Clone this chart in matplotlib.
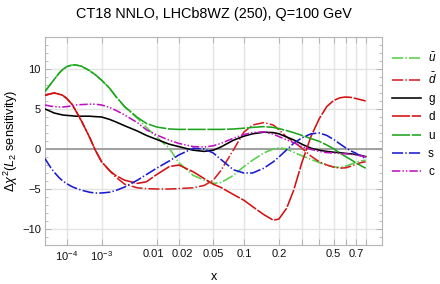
import numpy as np
import matplotlib
matplotlib.use('Agg')
import matplotlib.pyplot as plt
from matplotlib.transforms import ScaledTranslation

# ---------------- data ----------------
x = [1e-5, 2e-5, 3e-5, 5e-5, 7e-5, 1e-4, 1.5e-4, 2e-4, 3e-4, 5e-4, 7e-4,
     1e-3, 1.5e-3, 2e-3, 3e-3, 5e-3, 7e-3, 0.01, 0.015, 0.02, 0.03, 0.04,
     0.05, 0.06, 0.08, 0.1, 0.12, 0.15, 0.18, 0.2, 0.23, 0.26, 0.3, 0.35,
     0.4, 0.45, 0.5, 0.55, 0.6, 0.65, 0.7, 0.75, 0.8]

ubar = [7.2, 8.1, 8.7, 9.5, 9.95, 10.3, 10.5, 10.5, 10.35, 9.8, 9.3,
        8.6, 7.6, 6.6, 5.25, 3.85, 2.7, 1.5, 0.1, -1.7, -3.3, -3.9,
        -4.3, -4.2, -3.3, -2.2, -1.4, -0.5, 0.0, 0.15, 0.0, -0.4, -0.85, -1.3,
        -1.7, -2.0, -2.25, -2.3, -2.15, -1.9, -1.65, -1.5, -1.4]
dbar = [6.7, 6.9, 7.0, 6.85, 6.7, 6.3, 5.6, 4.8, 3.5, 1.5, -0.1,
        -1.6, -2.7, -3.5, -4.4, -4.85, -4.95, -5.0, -5.0, -4.95, -4.85, -4.55,
        -3.9, -2.7, -0.1, 2.1, 3.0, 3.3, 3.0, 2.4, 1.5, 0.9, 0.1, -0.9,
        -1.6, -2.0, -2.25, -2.4, -2.35, -2.15, -1.9, -1.7, -1.6]
g = [5.0, 4.7, 4.5, 4.35, 4.25, 4.2, 4.15, 4.1, 4.1, 4.1, 4.05,
     4.0, 3.7, 3.4, 2.9, 2.25, 1.7, 1.2, 0.6, 0.3, -0.15, -0.3,
     -0.15, 0.25, 1.1, 1.6, 1.9, 2.1, 2.05, 1.9, 1.5, 1.15, 0.6, 0.1,
     -0.15, -0.3, -0.4, -0.45, -0.55, -0.6, -0.7, -0.8, -0.95]
d = [6.7, 6.9, 7.0, 6.85, 6.7, 6.3, 5.6, 4.8, 3.5, 1.5, -0.1,
     -1.6, -2.7, -3.3, -3.9, -4.3, -4.1, -3.2, -2.2, -2.0, -2.85, -3.7,
     -4.4, -4.8, -5.7, -6.4, -7.2, -8.2, -8.9, -8.75, -7.4, -5.2, -1.7, 1.6,
     3.8, 5.3, 6.05, 6.4, 6.5, 6.45, 6.3, 6.15, 6.0]
u = [7.2, 8.1, 8.7, 9.5, 9.95, 10.3, 10.5, 10.5, 10.35, 9.8, 9.3,
     8.6, 7.6, 6.6, 5.3, 3.95, 3.2, 2.75, 2.5, 2.45, 2.45, 2.45,
     2.45, 2.45, 2.5, 2.6, 2.7, 2.8, 2.7, 2.55, 2.3, 2.05, 1.7, 1.3,
     0.95, 0.5, 0.05, -0.5, -0.95, -1.35, -1.75, -2.1, -2.4]
s = [-1.2, -2.3, -2.9, -3.6, -4.0, -4.35, -4.7, -4.9, -5.15, -5.4, -5.5,
     -5.5, -5.4, -5.2, -4.75, -3.9, -3.2, -2.4, -1.5, -0.75, 0.1, 0.0,
     -0.5, -1.3, -2.6, -3.0, -3.0, -2.4, -1.6, -1.0, -0.1, 0.7, 1.4, 1.9,
     2.0, 1.7, 1.2, 0.65, 0.15, -0.25, -0.55, -0.9, -1.2]
c = [5.5, 5.35, 5.3, 5.25, 5.25, 5.3, 5.4, 5.5, 5.55, 5.6, 5.6,
     5.5, 5.2, 4.85, 4.25, 3.3, 2.4, 1.75, 1.1, 0.7, 0.3, 0.25,
     0.4, 0.7, 1.35, 1.8, 2.05, 2.15, 1.85, 1.55, 1.15, 0.8, 0.3, -0.05,
     -0.3, -0.45, -0.5, -0.55, -0.6, -0.65, -0.75, -0.85, -1.0]

labels = [r'$\bar{u}$', r'$\bar{d}$', 'g', 'd', 'u', 's', 'c']
series = [ubar, dbar, g, d, u, s, c]
colors = ['#55d04a', '#d42020', '#000000', '#d41010', '#1ea51e', '#1a1ad0', '#c010c0']
styles = [(0, (8, 1.6, 1, 1.6)), (0, (8, 1.6, 1, 1.6)), '-', (0, (13, 1.2)),
          (0, (13, 1.2)), (0, (8, 1.6, 1, 1.6)), (0, (6, 1.5, 1, 1.5, 1, 1.5))]

xgrid = [1e-4, 1e-3, 0.01, 0.02, 0.05, 0.1, 0.2, 0.3, 0.4, 0.5, 0.6, 0.7, 0.8]
xticklabels = [r'$10^{-4}$', r'$10^{-3}$', '0.01', '0.02', '0.05', '0.1', '0.2',
               '', '', '0.5', '', '0.7', '']
yticks = [-10, -5, 0, 5, 10]

# ---------------- style ----------------
plt.rcParams['font.family'] = ['Liberation Sans', 'DejaVu Sans']
plt.rcParams['mathtext.fontset'] = 'custom'
plt.rcParams['mathtext.rm'] = 'Liberation Sans'
plt.rcParams['mathtext.it'] = 'Liberation Sans:italic'
plt.rcParams['mathtext.sf'] = 'Liberation Sans'
plt.rcParams['lines.scale_dashes'] = False

fig = plt.figure(figsize=(4.4, 2.84), dpi=100)
ax = fig.add_axes([45 / 440, 39 / 284, 337 / 440, 208 / 284])


def fwd(v):
    return np.power(np.clip(v, 1e-12, None), 0.2)


def inv(v):
    return np.power(np.clip(v, 0, None), 5.0)


ax.set_xscale('function', functions=(fwd, inv))
ax.set_xlim(1e-5, 1)
ax.set_ylim(-12, 14)

ax.set_xticks(xgrid)
ax.set_xticklabels(xticklabels)
ax.set_xticks([], minor=True)
ax.set_yticks(yticks)
ax.set_yticklabels([str(v).replace('-', '\u2212') for v in yticks])
ax.set_yticks(np.arange(-12, 15, 1), minor=True)

ax.grid(True, which='major', color='#e4e4e4', lw=1.0)
ax.set_axisbelow(True)
ax.axhline(0, color='#a0a0a0', lw=1.4, zorder=1)

for sp in ax.spines.values():
    sp.set_color('#b4b4b4')
    sp.set_linewidth(0.8)
ax.tick_params(which='both', direction='in', top=True, right=True,
               color='#b4b4b4', labelsize=8, labelcolor='#111111')
ax.tick_params(which='major', length=4, width=0.7, pad=3)
ax.tick_params(which='minor', length=2, width=0.6)

# small separation of the two crowded labels, as in the reference
for lab in ax.get_xticklabels():
    if lab.get_text() == '0.01':
        lab.set_transform(lab.get_transform() + ScaledTranslation(-0.035, 0, fig.dpi_scale_trans))
    elif lab.get_text() == '0.02':
        lab.set_transform(lab.get_transform() + ScaledTranslation(0.035, 0, fig.dpi_scale_trans))

for ys, lab, col, ls in zip(series, labels, colors, styles):
    ax.plot(x, ys, color=col, lw=1.15, linestyle=ls, label=lab, zorder=3)

ax.set_title('CT18 NNLO, LHCb8WZ (250), Q=100 GeV', fontsize=10.4, pad=14)
ax.set_xlabel('x', fontsize=9, labelpad=6)
ax.set_ylabel(r'$\Delta\chi^2$($L_2$ sensitivity)', fontsize=9.2)
ax.yaxis.set_label_coords((20 - 45) / 337, 0.5)

leg = ax.legend(loc='upper left', bbox_to_anchor=(392 / 440, 232 / 284),
                bbox_transform=fig.transFigure, frameon=False, fontsize=8.5,
                handlelength=2.45, handletextpad=0.6, labelspacing=0.53,
                borderpad=0, borderaxespad=0)

fig.savefig('out.png', dpi=100)
